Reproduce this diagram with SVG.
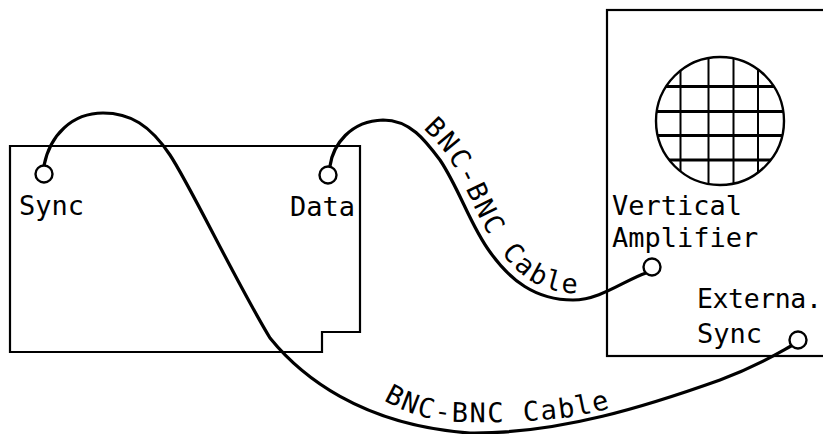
<svg xmlns="http://www.w3.org/2000/svg" width="823" height="434" viewBox="0 0 823 434">
  <style>
    .box { fill: none; stroke: #000; stroke-width: 2.2; stroke-linejoin: miter; }
    .jack { fill: #fff; stroke: #000; stroke-width: 2.4; }
    .cable { fill: none; stroke: #000; stroke-width: 3.2; stroke-linecap: round; }
    .grid { stroke: #000; stroke-width: 2; }
    .gridh { stroke: #000; stroke-width: 2.8; }
    .lbl { font-family: "DejaVu Sans Mono", "Liberation Mono", monospace; font-size: 27px; fill: #000; }
    .clbl { font-family: "DejaVu Sans Mono", "Liberation Mono", monospace; font-size: 27px; fill: #000; }
  </style>
  <defs>
    <clipPath id="screenClip">
      <circle cx="720" cy="121" r="64"/>
    </clipPath>
    <path id="dataTextPath" d="M 383,112 C 411,112 430,134 447,155 C 467,185 477,220 497,247 C 517,275 541,293 573,293 C 595,293 612,284 630,276"/>
    <path id="syncTextPath" d="M 380,398 C 400,410 425,421 460,422 C 500,423 540,421 570,417 C 590,414 605,410 625,403"/>
  </defs>
  <rect width="823" height="434" fill="#fff"/>

  <g id="connectors">
    <path id="cable-sync" class="cable" d="M 44,165.5 C 50,135 72,113 103,113 C 130,113 150,125 170,155 C 190,185 235,280 270,338 C 300,375 360,425 470,433 C 560,434 650,405 720,380 C 760,365 780,352 792,345.5"/>
    <path id="cable-data" class="cable" d="M 330,166 C 333,145 350,121 383,120 C 410,120 425,140 440,160 C 460,190 470,225 490,252 C 510,280 535,300 573,300 C 600,300 625,280 646,273"/>
    <text class="clbl" letter-spacing="2.2"><textPath href="#dataTextPath" startOffset="44">BNC-BNC Cable</textPath></text>
    <text class="clbl" letter-spacing="1.7"><textPath href="#syncTextPath" startOffset="4">BNC-BNC Cable</textPath></text>
  </g>

  <g id="instrument">
    <path class="box" d="M 10,146 L 360,146 L 360,332 L 322,332 L 322,352 L 10,352 Z"/>
    <circle class="jack" cx="44" cy="174" r="8.5"/>
    <text class="lbl" x="19" y="215">Sync</text>
    <circle class="jack" cx="328" cy="175" r="8.5"/>
    <text class="lbl" x="290" y="216">Data</text>
  </g>

  <g id="oscilloscope">
    <rect class="box" x="607" y="10" width="240" height="346"/>
    <g id="screen">
      <g clip-path="url(#screenClip)">
        <line class="grid" x1="680.5" y1="50" x2="680.5" y2="190"/>
        <line class="grid" x1="708.5" y1="50" x2="708.5" y2="190"/>
        <line class="grid" x1="733.5" y1="50" x2="733.5" y2="190"/>
        <line class="grid" x1="758" y1="50" x2="758" y2="190"/>
        <line class="gridh" x1="650" y1="86.5" x2="790" y2="86.5"/>
        <line class="gridh" x1="650" y1="111.5" x2="790" y2="111.5"/>
        <line class="gridh" x1="650" y1="135.5" x2="790" y2="135.5"/>
        <line class="gridh" x1="650" y1="160" x2="790" y2="160"/>
      </g>
      <circle cx="720" cy="121" r="64" fill="none" stroke="#000" stroke-width="2.4"/>
    </g>
    <text class="lbl" x="612" y="215">Vertical</text>
    <text class="lbl" x="612" y="247">Amplifier</text>
    <circle class="jack" cx="652" cy="267" r="8.5"/>
    <text class="lbl" x="697" y="308" style="font-size:26.5px" letter-spacing="-0.4">Externa.</text>
    <text class="lbl" x="697" y="343">Sync</text>
    <circle class="jack" cx="798" cy="340" r="8.5"/>
  </g>
</svg>
